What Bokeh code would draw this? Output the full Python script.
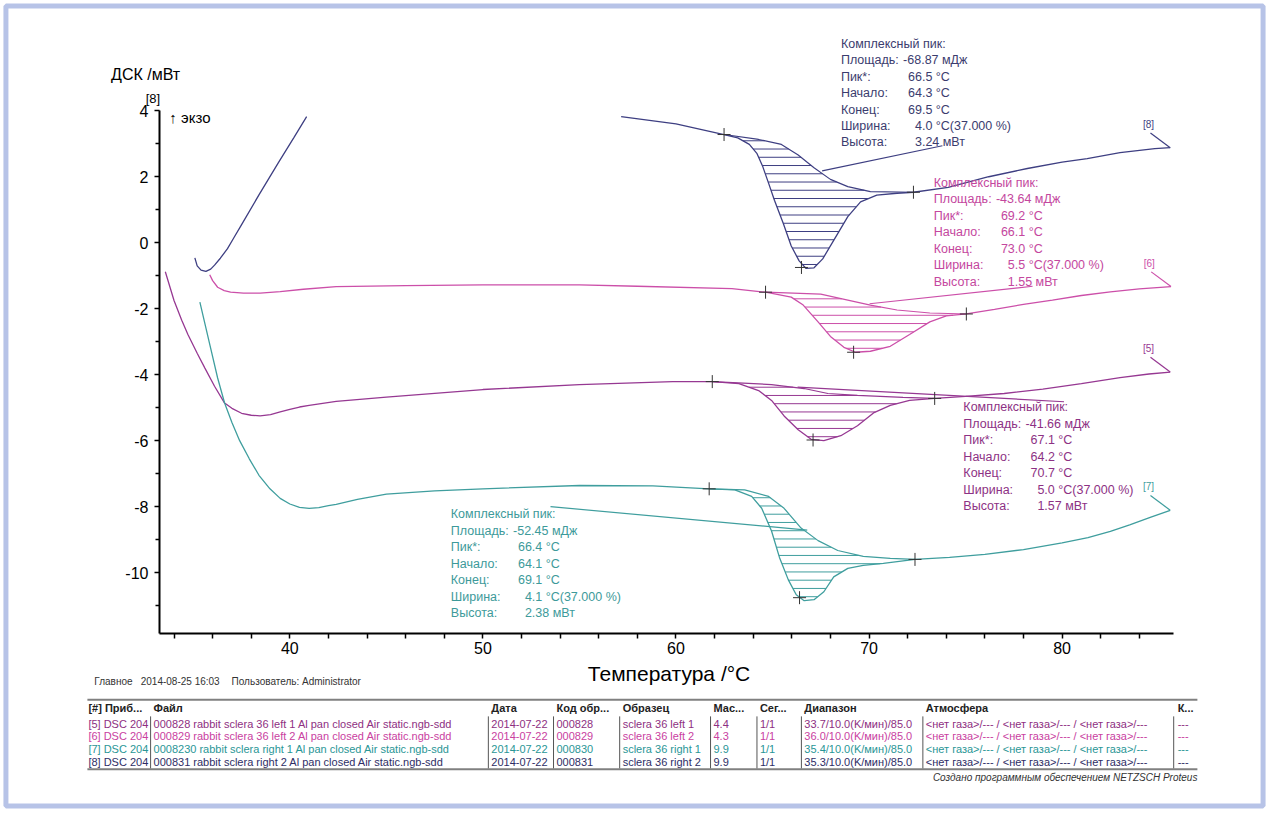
import numpy as np
from bokeh.plotting import figure
from bokeh.models import LinearAxis, Range1d, FixedTicker
from bokeh.core.properties import value
from bokeh.embed import file_html
from bokeh.resources import INLINE

# ---------------- data ----------------
# [8] navy: start transient and main part
s8a_x = [35.08, 35.2, 35.4, 35.65, 35.9, 36.1, 36.4, 36.77, 37.1, 37.44, 38.4, 39.4, 40.2, 40.87]
s8a_y = [-0.46, -0.70, -0.83, -0.87, -0.80, -0.68, -0.47, -0.18, 0.15, 0.49, 1.45, 2.42, 3.18, 3.82]
s8_x = [57.16, 60.0, 62.49, 63.2, 63.8, 64.2, 64.5, 64.8, 65.1, 65.56, 65.97, 66.38, 66.74, 67.15,
        67.6, 68.2, 68.9, 69.56, 70.4, 71.45, 72.3, 74.1, 76.2, 78.2, 80.0, 81.3, 83.0, 84.8, 85.6]
s8_y = [3.82, 3.60, 3.28, 3.18, 2.98, 2.70, 2.30, 1.80, 1.29, 0.58, -0.10, -0.55, -0.78, -0.76,
        -0.49, 0.10, 0.79, 1.24, 1.44, 1.50, 1.53, 1.68, 2.00, 2.25, 2.44, 2.55, 2.73, 2.85, 2.88]
b8_x = [62.49, 64.28, 65.46, 66.33, 67.15, 68.0, 68.9, 70.07, 72.3]
b8_y = [3.28, 3.13, 2.98, 2.66, 2.27, 1.92, 1.70, 1.55, 1.53]
m8_x = [62.49, 66.5, 72.3]
m8_y = [3.28, -0.75, 1.53]

# [6] pink
s6_x = [35.85, 36.0, 36.26, 36.6, 36.93, 37.6, 38.46, 39.5, 40.7, 42.4, 46, 50, 55, 58, 62.9, 64.64,
        65.97, 66.59, 67.36, 68.0, 68.7, 69.3, 70.07, 71.1, 72.1, 73.15, 74.0, 75.04, 76.5, 78.0,
        79.5, 81.0, 82.5, 84.0, 85.64]
s6_y = [-0.97, -1.15, -1.35, -1.45, -1.50, -1.53, -1.53, -1.48, -1.41, -1.33, -1.30, -1.28, -1.28,
        -1.32, -1.39, -1.50, -1.65, -1.89, -2.40, -2.84, -3.17, -3.32, -3.29, -3.14, -2.78, -2.40,
        -2.22, -2.16, -2.02, -1.87, -1.74, -1.60, -1.49, -1.40, -1.33]
b6_x = [64.64, 67.5, 68.9, 70.07, 71.45, 73.15, 75.04]
b6_y = [-1.50, -1.56, -1.74, -1.89, -2.04, -2.13, -2.16]
m6_x = [64.64, 69.2, 75.04]
m6_y = [-1.50, -3.32, -2.16]

# [5] purple
s5_x = [33.55, 34.0, 34.4, 34.72, 35.2, 35.6, 36.1, 36.62, 37.0, 37.5, 38.0, 38.46, 39.0, 39.5, 40.0,
        40.5, 41.0, 42.4, 45, 50, 55, 59.83, 61.88, 63.26, 64.28, 64.95, 65.6, 66.33, 67.0, 67.66,
        68.54, 69.4, 70.23, 71.1, 72.1, 73.4, 75.0, 77.0, 79.0, 81.0, 83.0, 84.5, 85.6]
s5_y = [-0.88, -1.75, -2.35, -2.78, -3.35, -3.80, -4.35, -4.86, -5.02, -5.17, -5.23, -5.25, -5.21,
        -5.13, -5.05, -4.98, -4.93, -4.81, -4.68, -4.45, -4.30, -4.21, -4.21, -4.27, -4.48, -4.78,
        -5.25, -5.67, -5.96, -6.00, -5.85, -5.55, -5.16, -4.93, -4.78, -4.72, -4.66, -4.57, -4.44,
        -4.27, -4.09, -3.98, -3.92]
b5_x = [61.88, 64.95, 66.64, 67.87, 69.4, 71.76, 73.4]
b5_y = [-4.21, -4.30, -4.42, -4.57, -4.63, -4.69, -4.72]
m5_x = [61.88, 67.1, 73.4]
m5_y = [-4.21, -5.98, -4.72]

# [7] teal
s7_x = [35.34, 35.6, 35.9, 36.26, 36.62, 37.0, 37.4, 37.9, 38.4, 38.97, 39.5, 40.0, 40.5, 41.0, 41.5,
        42.0, 42.4, 43.5, 45, 47.5, 50, 55, 58.8, 61.72, 63.05, 63.92, 64.44, 64.95, 65.36, 65.82,
        66.23, 66.64, 67.15, 67.66, 68.17, 68.9, 69.7, 70.74, 72.38, 74.17, 76.0, 78.0, 80.0, 81.34,
        82.5, 83.5, 84.6, 85.6]
s7_y = [-1.80, -2.45, -3.20, -4.10, -4.86, -5.45, -6.00, -6.55, -7.05, -7.46, -7.75, -7.92, -8.02,
        -8.05, -8.03, -7.97, -7.93, -7.78, -7.62, -7.52, -7.46, -7.36, -7.37, -7.46, -7.49, -7.69,
        -8.05, -8.74, -9.54, -10.22, -10.67, -10.85, -10.82, -10.58, -10.13, -9.87, -9.78, -9.72,
        -9.60, -9.54, -9.45, -9.30, -9.10, -8.94, -8.75, -8.55, -8.32, -8.11]
b7_x = [61.72, 63.56, 64.8, 65.6, 66.48, 67.36, 68.38, 69.7, 71.1, 72.38]
b7_y = [-7.46, -7.49, -7.69, -8.05, -8.65, -9.03, -9.33, -9.51, -9.57, -9.60]
m7_x = [61.72, 66.4, 72.38]
m7_y = [-7.46, -10.76, -9.60]

# leader lines from the result boxes
l8_x, l8_y = [67.57, 73.8], [2.18, 2.94]
l6_x, l6_y = [70.03, 78.47], [-1.85, -1.32]
l5_x, l5_y = [66.3, 80.1], [-4.38, -4.82]
l7_x, l7_y = [53.5, 66.8], [-8.00, -8.71]

info_labels = ["Комплексный пик:", "Площадь:", "Пик*:", "Начало:", "Конец:", "Ширина:", "Высота:"]
info8 = ["", "-68.87 мДж", "66.5 °C", "64.3 °C", "69.5 °C", "4.0 °C(37.000 %)", "3.24 мВт"]
info6 = ["", "-43.64 мДж", "69.2 °C", "66.1 °C", "73.0 °C", "5.5 °C(37.000 %)", "1.55 мВт"]
info5 = ["", "-41.66 мДж", "67.1 °C", "64.2 °C", "70.7 °C", "5.0 °C(37.000 %)", "1.57 мВт"]
info7 = ["", "-52.45 мДж", "66.4 °C", "64.1 °C", "69.1 °C", "4.1 °C(37.000 %)", "2.38 мВт"]

y_ticks = [-10, -8, -6, -4, -2, 0, 2, 4]
y_minor = [-11, -9, -7, -5, -3, -1, 1, 3]
x_ticks = [40, 50, 60, 70, 80]
x_minor = [34, 36, 38, 42, 44, 46, 48, 52, 54, 56, 58, 62, 64, 66, 68, 72, 74, 76, 78, 82, 84]

footer_parts = ["Главное", "2014-08-25 16:03", "Пользователь: Administrator"]
credit = "Создано программным обеспечением NETZSCH Proteus"
tbl_header = ["[#] Приб...", "Файл", "Дата", "Код обр...", "Образец", "Мас...", "Сег...",
              "Диапазон", "Атмосфера", "К..."]
tbl_rows = [
    ["[5] DSC 204", "000828 rabbit sclera 36 left 1  Al pan closed Air static.ngb-sdd", "2014-07-22",
     "000828", "sclera 36 left 1", "4.4", "1/1", "33.7/10.0(K/мин)/85.0",
     "<нет газа>/--- / <нет газа>/--- / <нет газа>/---", "---"],
    ["[6] DSC 204", "000829 rabbit sclera 36 left 2 Al pan closed Air static.ngb-sdd", "2014-07-22",
     "000829", "sclera 36 left 2", "4.3", "1/1", "36.0/10.0(K/мин)/85.0",
     "<нет газа>/--- / <нет газа>/--- / <нет газа>/---", "---"],
    ["[7] DSC 204", "0008230 rabbit sclera right 1 Al pan closed Air static.ngb-sdd", "2014-07-22",
     "000830", "sclera 36 right 1", "9.9", "1/1", "35.4/10.0(K/мин)/85.0",
     "<нет газа>/--- / <нет газа>/--- / <нет газа>/---", "---"],
    ["[8] DSC 204", "000831 rabbit sclera right 2 Al pan closed Air static.ngb-sdd", "2014-07-22",
     "000831", "sclera 36 right 2", "9.9", "1/1", "35.3/10.0(K/мин)/85.0",
     "<нет газа>/--- / <нет газа>/--- / <нет газа>/---", "---"],
]

# ---------------- layout / style ----------------
C8, C6, C5, C7 = "#3e3f82", "#cc4fa9", "#963892", "#3f9e9e"
T8, T6, T5, T7 = "#3b3c6e", "#c4479e", "#8d3184", "#3d9a9a"
ROWC = ["#8e2f82", "#c9419f", "#2a9696", "#2e2e66"]
FONT = value("Liberation Sans")

W, H = 1268, 811          # canvas; reference picture is 1284 x 827
REF_W, REF_H = 1284, 827
def dx(px):               # reference pixel -> data x
    return 40 + (px - 293) / 19.55
def dy(py):               # reference pixel -> data y
    return (247 - py) / 33.64
def ddx(n):
    return n / 19.55
def ddy(n):
    return -n / 33.64

p = figure(width=W, height=H, x_range=Range1d(dx(0), dx(REF_W)), y_range=Range1d(dy(REF_H), dy(0)),
           output_backend="svg", toolbar_location=None, min_border=0,
           x_axis_type=None, y_axis_type=None)
p.outline_line_color = None
p.background_fill_color = "white"
p.border_fill_color = "white"

# outer light-blue frame
p.quad(left=dx(5.5), right=dx(REF_W - 5.5), top=dy(5.5), bottom=dy(REF_H - 5.5),
       fill_color=None, line_color="#b7c3e7", line_width=5)

x_axis_pos = dy(645)
y_axis_pos = dx(161)
yax = LinearAxis(fixed_location=y_axis_pos, bounds=(x_axis_pos, 4.0),
                 ticker=FixedTicker(ticks=y_ticks, minor_ticks=y_minor))
xax = LinearAxis(fixed_location=x_axis_pos, bounds=(y_axis_pos, dx(1188)),
                 ticker=FixedTicker(ticks=x_ticks, minor_ticks=x_minor))
for ax in (xax, yax):
    ax.axis_line_width = 2
    ax.axis_line_color = "black"
    ax.major_tick_in = 0
    ax.minor_tick_in = 0
    ax.major_tick_line_width = 1.5
    ax.minor_tick_line_width = 1.5
    ax.major_label_text_font = "Liberation Sans"
    ax.major_label_text_font_size = "16px"
    ax.major_label_text_color = "black"
yax.major_label_overrides = {t: str(t) for t in y_ticks}
yax.major_tick_out = 5
yax.minor_tick_out = 4
yax.major_label_standoff = 6
xax.major_tick_out = 5
xax.minor_tick_out = 5
xax.major_label_standoff = 4
p.add_layout(yax, "left")
p.add_layout(xax, "below")

def txt(x, y, s, size, color="black", align="left", style="normal", baseline="middle"):
    p.text(x=[x], y=[y], text=[s], text_font=FONT, text_font_size=size, text_color=color,
           text_align=align, text_baseline=baseline, text_font_style=style)

# axis titles
txt(dx(112), dy(75), "ДСК /мВт", "16px")
txt(dx(147), dy(100), "[8]", "13px")
txt(dx(171), dy(119), "↑ экзо", "15px")
txt(dx(677), dy(686), "Температура /°C", "21px", align="center")
for fx, part in zip([95, 142, 234], footer_parts):
    txt(dx(fx), dy(694), part, "10px", "#333333")

# hatching between curve and sigmoid baseline
def hatch(cx, cy, bx, by, step=0.25):
    xg = np.linspace(bx[0], bx[-1], 3000)
    c = np.interp(xg, cx, cy)
    b = np.interp(xg, bx, by)
    x0, x1, ys = [], [], []
    h = c.min() + 0.12
    while h < b.max():
        inside = ((c < h) & (b > h)).astype(int)
        edges = np.flatnonzero(np.diff(np.concatenate([[0], inside, [0]])))
        for s, e in zip(edges[::2], edges[1::2]):
            x0.append(xg[s]); x1.append(xg[e - 1]); ys.append(h)
        h += step
    return x0, x1, ys

series = [
    (s8_x, s8_y, b8_x, b8_y, m8_x, m8_y, l8_x, l8_y, C8, "[8]"),
    (s6_x, s6_y, b6_x, b6_y, m6_x, m6_y, l6_x, l6_y, C6, "[6]"),
    (s5_x, s5_y, b5_x, b5_y, m5_x, m5_y, l5_x, l5_y, C5, "[5]"),
    (s7_x, s7_y, b7_x, b7_y, m7_x, m7_y, l7_x, l7_y, C7, "[7]"),
]

p.line(s8a_x, s8a_y, line_color=C8, line_width=1.3)
for sx, sy, bx, by, mx, my, lx, ly, col, tag in series:
    x0, x1, hy = hatch(sx, sy, bx, by)
    p.segment(x0=x0, y0=hy, x1=x1, y1=hy, line_color=col, line_width=1)
    p.line(bx, by, line_color=col, line_width=1.2)
    p.line(sx, sy, line_color=col, line_width=1.3)
    p.line(lx, ly, line_color=col, line_width=1.2)
    p.scatter(mx, my, marker="cross", size=13, line_color="#333333", line_width=1)
    ex, ey = sx[-1], sy[-1]
    p.line([ex + ddx(-20), ex], [ey + ddy(-15), ey], line_color=col, line_width=1.2)
    txt(ex + ddx(-22), ey + ddy(-24), tag, "10px", col, align="center")

# result boxes
def info_block(px0, py0, vals, color):
    offs = [0, 63, 68, 68, 68, 75, 75]
    for i, (lab, val) in enumerate(zip(info_labels, vals)):
        yy = dy(py0 + i * 16.8)
        txt(dx(px0), yy, lab, "12.5px", color)
        if val:
            txt(dx(px0 + offs[i]), yy, val, "12.5px", color)

info_block(851, 44, info8, T8)
info_block(945, 186, info6, T6)
info_block(975, 415, info5, T5)
info_block(456, 524, info7, T7)

# table
col_px = [89, 155, 497, 563, 630, 722, 769, 814, 937, 1192]
sep_px = [152, 494, 560, 627, 719, 766, 811, 934, 1188]
row_py = [737.5, 750.5, 763.5, 776.5]
p.segment(x0=[dx(88), dx(88)], y0=[dy(713), dy(784)], x1=[dx(1212), dx(1212)], y1=[dy(713), dy(784)],
          line_color="#808080", line_width=2)
p.segment(x0=[dx(s) for s in sep_px], y0=[dy(730)] * len(sep_px),
          x1=[dx(s) for s in sep_px], y1=[dy(783)] * len(sep_px), line_color="#555555", line_width=1)
for cx, h in zip(col_px, tbl_header):
    txt(dx(cx), dy(721), h, "11px", "#222222", style="bold")
for r, (row, py) in enumerate(zip(tbl_rows, row_py)):
    for cx, cell in zip(col_px, row):
        txt(dx(cx), dy(py), cell, "11px", ROWC[r])
txt(dx(1212), dy(792), credit, "10px", "#333333", align="right", style="italic")

open("out.html", "w").write(file_html(p, INLINE))
